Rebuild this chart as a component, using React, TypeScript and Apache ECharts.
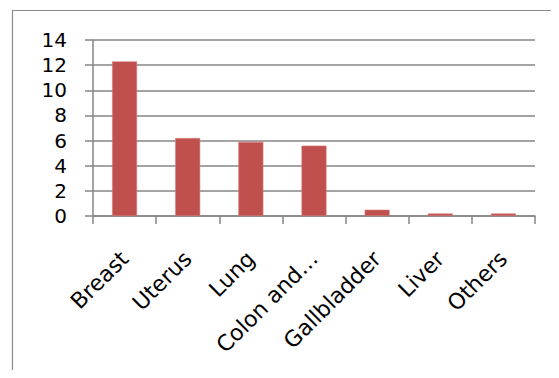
import React, { useEffect, useRef } from "react";
import * as echarts from "echarts";

const categories = ["Breast", "Uterus", "Lung", "Colon and…", "Gallbladder", "Liver", "Others"];
const values = [12.3, 6.2, 5.9, 5.6, 0.5, 0.2, 0.2];
const yMin = 0;
const yMax = 14;
const yInterval = 2;

export default function App() {
  const ref = useRef<HTMLDivElement>(null);
  useEffect(() => {
    if (!ref.current) return;
    const chart = echarts.init(ref.current, null, { renderer: "svg" });
    chart.setOption({
      animation: false,
      backgroundColor: "#ffffff",
      graphic: [
        {
          type: "rect",
          shape: { x: 12.5, y: 10.5, width: 600, height: 400 },
          style: { fill: "none", stroke: "#8a8a8a", lineWidth: 1.2 },
          z: -1,
        },
      ],
      grid: { left: 93, right: 24, top: 40, bottom: 162, containLabel: false },
      xAxis: {
        type: "category",
        data: categories,
        axisLine: { show: true, lineStyle: { color: "#868686", width: 1.5 } },
        axisTick: { show: true, alignWithLabel: false, length: 8, lineStyle: { color: "#868686", width: 1.5 } },
        axisLabel: {
          interval: 0,
          rotate: 45,
          margin: 39,
          color: "#000000",
          fontFamily: "DejaVu Sans",
          fontSize: 22,
        },
      },
      yAxis: {
        type: "value",
        min: yMin,
        max: yMax,
        interval: yInterval,
        axisLine: { show: true, lineStyle: { color: "#868686", width: 1.5 } },
        axisTick: { show: true, length: 8, lineStyle: { color: "#868686", width: 1.5 } },
        splitLine: { show: true, lineStyle: { color: "#868686", width: 1.5 } },
        axisLabel: {
          margin: 26,
          color: "#000000",
          fontFamily: "DejaVu Sans",
          fontSize: 20,
        },
      },
      series: [
        {
          type: "bar",
          data: values,
          barWidth: 25,
          itemStyle: { color: "#C0504D", borderColor: "#d9807e", borderWidth: 0.6 },
        },
      ],
    });
    return () => chart.dispose();
  }, []);
  return <div ref={ref} style={{ width: 559, height: 378, margin: -8 }} />;
}
